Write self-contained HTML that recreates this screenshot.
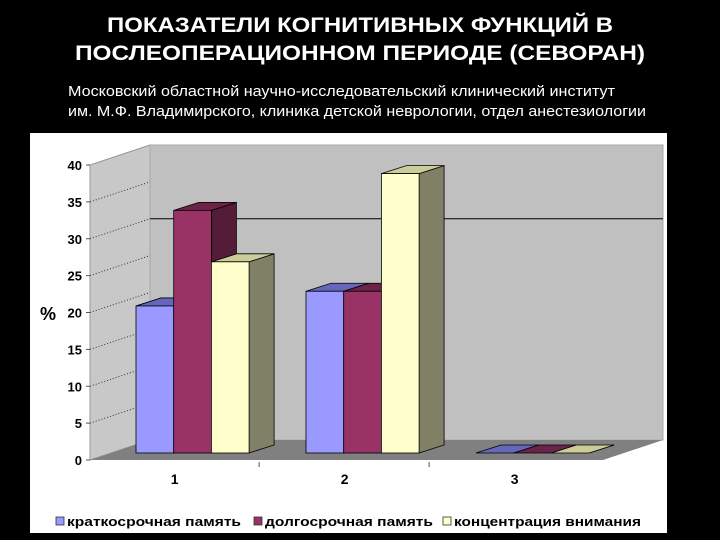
<!DOCTYPE html>
<html><head><meta charset="utf-8"><style>
html,body{margin:0;padding:0;background:#000;width:720px;height:540px;overflow:hidden}
svg{display:block;font-family:"Liberation Sans",sans-serif}
</style></head><body>
<svg id="c" width="720" height="540">
<text x="107" y="32" fill="#fff" font-size="21" font-weight="bold" textLength="506" lengthAdjust="spacingAndGlyphs">ПОКАЗАТЕЛИ КОГНИТИВНЫХ ФУНКЦИЙ В</text>
<text x="75" y="60" fill="#fff" font-size="21" font-weight="bold" textLength="570" lengthAdjust="spacingAndGlyphs">ПОСЛЕОПЕРАЦИОННОМ ПЕРИОДЕ (СЕВОРАН)</text>
<text x="68" y="96" fill="#fff" font-size="15" textLength="547" lengthAdjust="spacingAndGlyphs">Московский областной научно-исследовательский клинический институт</text>
<text x="68" y="116" fill="#fff" font-size="15" textLength="578" lengthAdjust="spacingAndGlyphs">им. М.Ф. Владимирского, клиника детской неврологии, отдел анестезиологии</text>
<rect x="30" y="133" width="637" height="400" fill="#fff"/>
<g id="plot"></g>
</svg>
<script>
const categories=["1","2","3"];
const seriesNames=["краткосрочная память","долгосрочная память","концентрация внимания"];
const shortMem=[20,22,0];
const longMem=[33,22,0];
const attention=[26,38,0];
const yTicks=[0,5,10,15,20,25,30,35,40];
const series=[shortMem,longMem,attention];
const colors=[["#9999ff","#6666bb","#6666aa"],["#993366","#6b2347","#551c38"],["#ffffcc","#cccc99","#808066"]];
const NS="http://www.w3.org/2000/svg";
const g=document.getElementById('plot');
function mk(t,a){const e=document.createElementNS(NS,t);for(const k in a)e.setAttribute(k,a[k]);g.appendChild(e);return e;}
const x0=90,yF=460,DX=60,DY=-20,ppu=7.375,yMax=40;
const yFront=v=>yF-v*ppu;
let e=mk('polygon',{points:`${x0},${yF} ${x0},${yFront(yMax)} ${x0+DX},${yFront(yMax)+DY} ${x0+DX},${yF+DY}`,fill:"#c8c8c8",stroke:"#999"});

e=mk('rect',{x:x0+DX,y:yFront(yMax)+DY,width:513,height:yMax*ppu,fill:"#c0c0c0",stroke:"#aaa"});

e=mk('polygon',{points:`${x0},${yF} ${x0+DX},${yF+DY} ${x0+DX+513},${yF+DY} ${x0+513},${yF}`,fill:"#808080"});

yTicks.forEach(t=>{
  const y=yFront(t);
  if(t>0&&t<yMax){const l=mk('line',{x1:x0,y1:y,x2:x0+DX,y2:y+DY,stroke:"#333","stroke-dasharray":"1,2"});
  }
  const tk=mk('line',{x1:x0-4,y1:y,x2:x0,y2:y,stroke:"#555"});
  
  const tx=mk('text',{x:x0-8,y:y+5,"text-anchor":"end","font-size":"13","font-weight":"bold",fill:"#000"});
  tx.textContent=t;
});
e=mk('line',{x1:x0+DX,y1:yFront(30)+DY,x2:x0+DX+513,y2:yFront(30)+DY,stroke:"#000","stroke-width":"1"});

e=mk('text',{x:40,y:320,"font-size":"18","font-weight":"bold",fill:"#000"});e.textContent="%";

const bw=37.7,bdx=25,bdy=-8,bBase=453,gStart=136,gStep=170;
categories.forEach((c,i)=>{
  series.forEach((s,j)=>{
    const v=s[i],xl=gStart+i*gStep+j*bw,top=bBase-v*ppu*0.997,h=bBase-top;
    const [cf,ct,cs]=colors[j];
    let p=mk('polygon',{points:`${xl+bw},${bBase} ${xl+bw+bdx},${bBase+bdy} ${xl+bw+bdx},${top+bdy} ${xl+bw},${top}`,fill:cs,stroke:"#000","stroke-width":"0.8"});
    
    p=mk('polygon',{points:`${xl},${top} ${xl+bdx},${top+bdy} ${xl+bw+bdx},${top+bdy} ${xl+bw},${top}`,fill:ct,stroke:"#000","stroke-width":"0.8"});
    
    if(h>0){p=mk('rect',{x:xl,y:top,width:bw,height:h,fill:cf,stroke:"#000","stroke-width":"0.8"});
    }
  });
  const t=mk('text',{x:gStart+i*gStep+bw+1,y:484,"text-anchor":"middle","font-size":"14","font-weight":"bold"});
  t.textContent=c;
  if(i<2){const tk=mk('line',{x1:gStart+i*gStep+bw*3+10,y1:462,x2:gStart+i*gStep+bw*3+10,y2:467,stroke:"#555"});
  }
});
const lx=[56,254,443];
const lw=[174,168,187];
seriesNames.forEach((n,j)=>{
  let r=mk('rect',{x:lx[j],y:517,width:8,height:8,fill:colors[j][0],stroke:"#333","stroke-width":"0.8"});
  
  const t=mk('text',{x:lx[j]+11,y:526,"font-size":"13","font-weight":"bold",textLength:lw[j],lengthAdjust:"spacingAndGlyphs"});
  t.textContent=n;
});
</script>
</body></html>
